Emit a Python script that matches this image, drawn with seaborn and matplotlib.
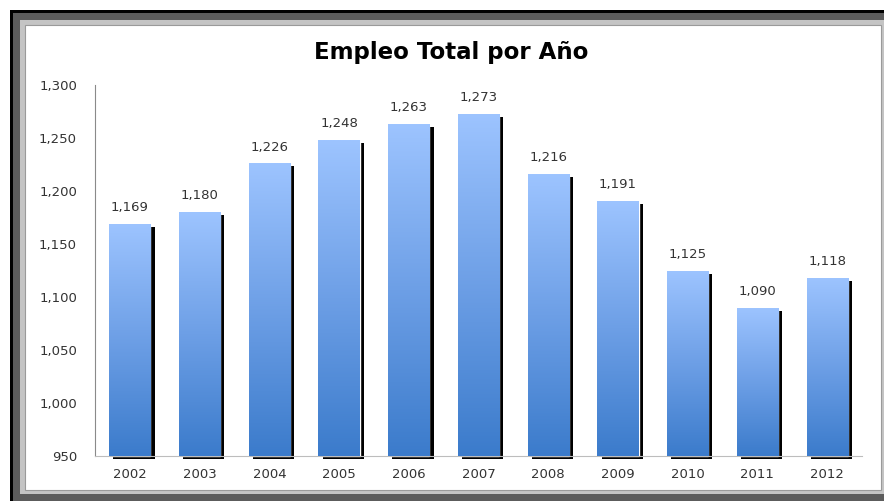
"""
Empleo Total por Año - bar chart with gradient bars and drop shadows.
"""
import numpy as np
import pandas as pd
import matplotlib.pyplot as plt
import matplotlib.patheffects as pe
from matplotlib.patches import Rectangle
from matplotlib.colors import LinearSegmentedColormap
import seaborn as sns

# ---------- data ----------
years = ["2002", "2003", "2004", "2005", "2006", "2007", "2008", "2009", "2010", "2011", "2012"]
empleo = [1169, 1180, 1226, 1248, 1263, 1273, 1216, 1191, 1125, 1090, 1118]
y_ticks = [950, 1000, 1050, 1100, 1150, 1200, 1250, 1300]
title = "Empleo Total por Año"

df = pd.DataFrame({"year": years, "empleo": empleo})

sns.set_theme(style="white")
plt.rcParams["font.family"] = ["DejaVu Sans"]

W, H = 884, 501
fig = plt.figure(figsize=(W / 100, H / 100), dpi=100)
fig.patch.set_facecolor("white")


def frame(x0, y0, x1, y1, face, edge="none", lw=0):
    # rectangle given in pixel coords, y measured from the top
    fig.patches.append(Rectangle((x0 / W, 1 - y1 / H), (x1 - x0) / W, (y1 - y0) / H,
                                 transform=fig.transFigure, facecolor=face,
                                 edgecolor=edge, linewidth=lw, zorder=-10))


# ---------- outer frame ----------
frame(10, 10, 890, 510, "#000000")
frame(13, 13, 890, 510, "#5c5c5c")
frame(20, 20, 884, 494, "#c4c4c4")
frame(25, 25, 881, 490, "#ffffff", edge="#9a9a9a", lw=0.8)

# ---------- axes ----------
ax = fig.add_axes([95 / W, 1 - 456 / H, (862 - 95) / W, (456 - 85) / H])
ax.set_facecolor("none")

sns.barplot(data=df, x="year", y="empleo", ax=ax, color="#6d9fe6", width=0.59,
            saturation=1, errorbar=None)

base = y_ticks[0]
cmap = LinearSegmentedColormap.from_list("bar", ["#3b7bcb", "#6d9fe6", "#9dc4ff"])
grad = np.linspace(0, 1, 256).reshape(-1, 1)
cont = ax.containers[0]
for bar, v in zip(cont.patches, empleo):
    bar.set_y(base)
    bar.set_height(v - base)
    bar.set_clip_on(False)
    bar.set_path_effects([pe.SimplePatchShadow(offset=(3, -2.2), shadow_rgbFace="black", alpha=1),
                          pe.Normal()])
    x0 = bar.get_x()
    im = ax.imshow(grad, extent=(x0, x0 + bar.get_width(), base, v), origin="lower",
                   aspect="auto", cmap=cmap, zorder=3)
    im.set_clip_path(bar)

ax.bar_label(cont, labels=[f"{v:,}" for v in empleo], padding=7, fontsize=9.5,
             color="#333333", zorder=4)

ax.set_xlim(-0.5, len(years) - 0.5)
ax.set_ylim(base, y_ticks[-1])
ax.set_yticks(y_ticks)
ax.set_yticklabels([f"{t:,}" for t in y_ticks])
ax.set_xlabel("")
ax.set_ylabel("")
ax.tick_params(axis="y", length=0, pad=13, labelsize=9.5, labelcolor="#333333")
ax.tick_params(axis="x", length=0, pad=9, labelsize=9.5, labelcolor="#333333")

sns.despine(ax=ax, top=True, right=True)
ax.spines["left"].set_color("#8a8a8a")
ax.spines["left"].set_linewidth(0.8)
ax.spines["bottom"].set_color("#bdbdbd")
ax.spines["bottom"].set_linewidth(0.8)

fig.text(451 / W, 1 - 53 / H, title, ha="center", va="center", fontsize=16.5,
         fontweight="bold", color="#000000")

fig.savefig("out.png", dpi=100)
